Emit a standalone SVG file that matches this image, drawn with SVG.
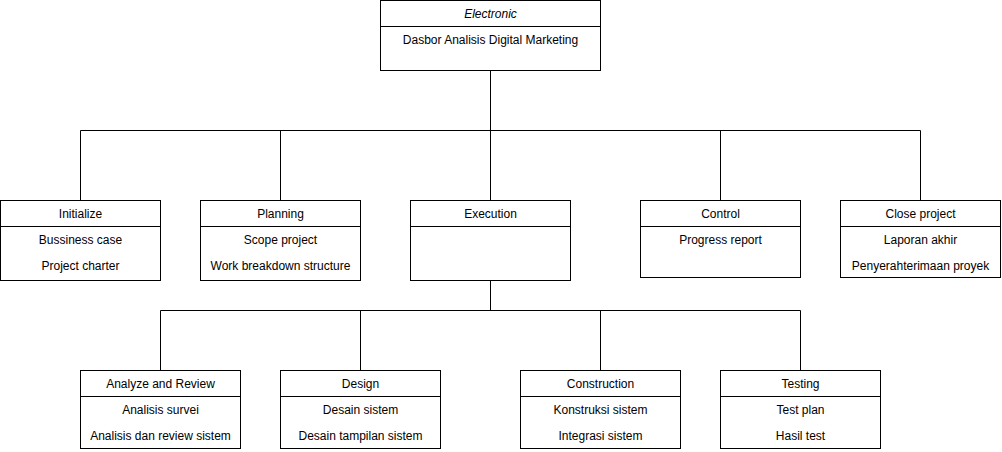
<svg xmlns="http://www.w3.org/2000/svg" width="1002" height="452" viewBox="0 0 1002 452">
<style>
.box{fill:#fff;stroke:#000;stroke-width:1}
.div{stroke:#000;stroke-width:1;fill:none}
.edge{stroke:#000;stroke-width:1;fill:none}
text{font-family:"Liberation Sans",Arial,sans-serif;font-size:12px;fill:#000;text-anchor:middle;dominant-baseline:central}
.it{font-style:italic}
</style>
<rect width="1002" height="452" fill="#fff"/>
<g id="connectors">
<path class="edge" d="M490.5 70.5V130.5M80.5 200.5V130.5H920.5V200.5M280.5 130.5V200.5M490.5 130.5V200.5M720.5 130.5V200.5"/>
<path class="edge" d="M490.5 280.5V310.5M160.5 370.5V310.5H800.5V370.5M360.5 310.5V370.5M600.5 310.5V370.5"/>
</g>
<g id="root">
<rect class="box" x="380.5" y="0.5" width="220" height="70"/>
<path class="div" d="M380.5 26.5H600.5"/>
<text class="it" x="490.5" y="14">Electronic</text>
<text x="490.5" y="40">Dasbor Analisis Digital Marketing</text>
</g>
<g id="initialize">
<rect class="box" x="0.5" y="200.5" width="160" height="80"/>
<path class="div" d="M0.5 226.5H160.5"/>
<text x="80.5" y="214">Initialize</text>
<text x="80.5" y="240">Bussiness case</text>
<text x="80.5" y="266">Project charter</text>
</g>
<g id="planning">
<rect class="box" x="200.5" y="200.5" width="160" height="80"/>
<path class="div" d="M200.5 226.5H360.5"/>
<text x="280.5" y="214">Planning</text>
<text x="280.5" y="240">Scope project</text>
<text x="280.5" y="266">Work breakdown structure</text>
</g>
<g id="execution">
<rect class="box" x="410.5" y="200.5" width="160" height="80"/>
<path class="div" d="M410.5 226.5H570.5"/>
<text x="490.5" y="214">Execution</text>
</g>
<g id="control">
<rect class="box" x="640.5" y="200.5" width="160" height="77"/>
<path class="div" d="M640.5 226.5H800.5"/>
<text x="720.5" y="214">Control</text>
<text x="720.5" y="240">Progress report</text>
</g>
<g id="close-project">
<rect class="box" x="840.5" y="200.5" width="160" height="77"/>
<path class="div" d="M840.5 226.5H1000.5"/>
<text x="920.5" y="214">Close project</text>
<text x="920.5" y="240">Laporan akhir</text>
<text x="920.5" y="266">Penyerahterimaan proyek</text>
</g>
<g id="analyze-review">
<rect class="box" x="80.5" y="370.5" width="160" height="78"/>
<path class="div" d="M80.5 396.5H240.5"/>
<text x="160.5" y="384">Analyze and Review</text>
<text x="160.5" y="410">Analisis survei</text>
<text x="160.5" y="436">Analisis dan review sistem</text>
</g>
<g id="design">
<rect class="box" x="280.5" y="370.5" width="160" height="78"/>
<path class="div" d="M280.5 396.5H440.5"/>
<text x="360.5" y="384">Design</text>
<text x="360.5" y="410">Desain sistem</text>
<text x="360.5" y="436">Desain tampilan sistem</text>
</g>
<g id="construction">
<rect class="box" x="520.5" y="370.5" width="160" height="78"/>
<path class="div" d="M520.5 396.5H680.5"/>
<text x="600.5" y="384">Construction</text>
<text x="600.5" y="410">Konstruksi sistem</text>
<text x="600.5" y="436">Integrasi sistem</text>
</g>
<g id="testing">
<rect class="box" x="720.5" y="370.5" width="160" height="78"/>
<path class="div" d="M720.5 396.5H880.5"/>
<text x="800.5" y="384">Testing</text>
<text x="800.5" y="410">Test plan</text>
<text x="800.5" y="436">Hasil test</text>
</g>
</svg>
